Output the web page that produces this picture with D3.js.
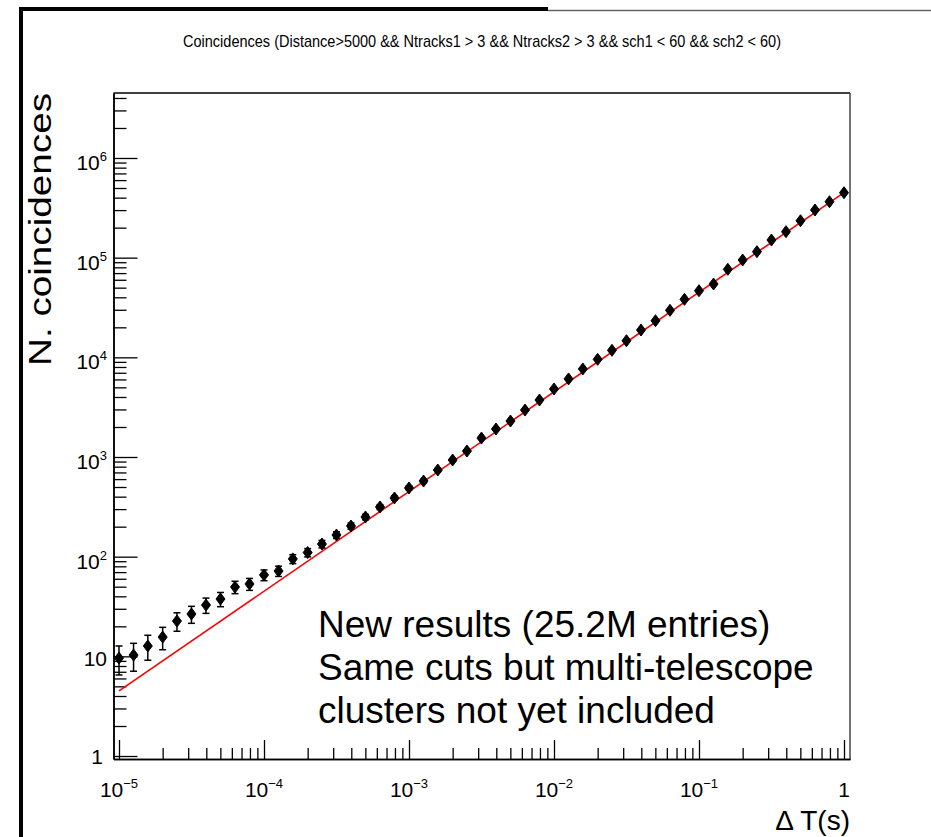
<!DOCTYPE html>
<html>
<head>
<meta charset="utf-8">
<script src="https://cdn.jsdelivr.net/npm/d3@7"></script>
<style>
  body { margin: 0; background: #fff; }
  text { font-family: "Liberation Sans", Arial, sans-serif; }
</style>
</head>
<body>
<div class="canvas"></div>
<script>
// bin centres (Delta T, seconds), 10 per decade
const deltaT = [
  1e-5, 1.26e-5, 1.58e-5, 2e-5, 2.51e-5, 3.16e-5, 3.98e-5, 5.01e-5, 6.31e-5, 7.94e-5,
  1e-4, 1.26e-4, 1.58e-4, 2e-4, 2.51e-4, 3.16e-4, 3.98e-4, 5.01e-4, 6.31e-4, 7.94e-4,
  1e-3, 1.26e-3, 1.58e-3, 2e-3, 2.51e-3, 3.16e-3, 3.98e-3, 5.01e-3, 6.31e-3, 7.94e-3,
  1e-2, 1.26e-2, 1.58e-2, 2e-2, 2.51e-2, 3.16e-2, 3.98e-2, 5.01e-2, 6.31e-2, 7.94e-2,
  1e-1, 1.26e-1, 1.58e-1, 2e-1, 2.51e-1, 3.16e-1, 3.98e-1, 5.01e-1, 6.31e-1, 7.94e-1,
  1
];
// number of coincidences
const counts = [
  9.6, 10.3, 12.7, 15.6, 22.6, 26.6, 32.7, 37.6, 49.6, 53.2,
  65.5, 71.8, 95, 110, 134, 165, 203, 250, 315, 388,
  489, 574, 740, 933, 1148, 1549, 1909, 2296, 2959, 3730,
  4809, 6070, 7640, 9550, 11750, 14680, 18800, 23300, 29600, 38200,
  46600, 54400, 76400, 94700, 114800, 150400, 182300, 234800, 300600, 364100,
  448600
];
// power law fit N = norm * dT^slope
const fitNorm = 4.5e5;
const fitSlope = 1.0;
const fitRange = [1e-5, 1];

const xMajor = [1e-5, 1e-4, 1e-3, 1e-2, 1e-1, 1];
const xMajorExp = ["\u22125", "\u22124", "\u22123", "\u22122", "\u22121", ""];
const yMajor = [1, 10, 1e2, 1e3, 1e4, 1e5, 1e6];
const yMajorExp = ["", "", "2", "3", "4", "5", "6"];

const titleText = "Coincidences (Distance>5000 && Ntracks1 > 3 && Ntracks2 > 3 && sch1 < 60 && sch2 < 60)";
const noteLines = ["New results (25.2M entries)", "Same cuts but multi-telescope", "clusters not yet included"];

const W = 931, H = 837;
const padL = 113.5, padR = 850, padT = 93, padB = 759;

const svg = d3.select(".canvas")
  .append("svg")
  .attr("width", W)
  .attr("height", H);

// outer slide frame
svg.append("line")
  .attr("x1", 21).attr("y1", 7).attr("x2", 21).attr("y2", H)
  .attr("stroke", "#000").attr("stroke-width", 4);
svg.append("line")
  .attr("x1", 19).attr("y1", 9).attr("x2", 548).attr("y2", 9)
  .attr("stroke", "#000").attr("stroke-width", 4);
svg.append("line")
  .attr("x1", 548).attr("y1", 10.5).attr("x2", W).attr("y2", 10.5)
  .attr("stroke", "#666").attr("stroke-width", 1.5);

const x = d3.scaleLog()
  .domain([Math.pow(10, -5.038), Math.pow(10, 0.0414)])
  .range([padL, padR]);
const y = d3.scaleLog()
  .domain([Math.pow(10, -0.030), Math.pow(10, 6.652)])
  .range([padB, padT]);

// minor tick values
const xMinor = [];
for (let k = -5; k < 0; k++) for (let m = 2; m < 10; m++) xMinor.push(m * Math.pow(10, k));
const yMinor = [];
for (let k = 0; k < 7; k++) for (let m = 2; m < 10; m++) {
  const v = m * Math.pow(10, k);
  if (v < y.domain()[1]) yMinor.push(v);
}

// plot frame
svg.append("line")
  .attr("x1", padL).attr("y1", padT).attr("x2", padR).attr("y2", padT)
  .attr("stroke", "#000").attr("stroke-width", 1.5);
svg.append("line")
  .attr("x1", padR).attr("y1", padT).attr("x2", padR).attr("y2", padB)
  .attr("stroke", "#444").attr("stroke-width", 1.5);

// axes (ticks pointing inside)
const gx = svg.append("g").attr("transform", `translate(0,${padB})`);
gx.call(d3.axisBottom(x).tickValues(xMinor).tickSizeInner(-11).tickSizeOuter(0).tickFormat(""));
gx.append("g").call(d3.axisBottom(x).tickValues(xMajor).tickSizeInner(-19).tickSizeOuter(0).tickFormat(""));
const gy = svg.append("g").attr("transform", `translate(${padL},0)`);
gy.call(d3.axisLeft(y).tickValues(yMinor).tickSizeInner(-13).tickSizeOuter(0).tickFormat(""));
gy.append("g").call(d3.axisLeft(y).tickValues(yMajor).tickSizeInner(-24).tickSizeOuter(0).tickFormat(""));
svg.selectAll(".domain").attr("stroke", "#000").attr("stroke-width", 1.5);
svg.selectAll(".tick line").attr("stroke", "#000").attr("stroke-width", 1.3);

// tick labels with superscripts
xMajor.forEach((v, i) => {
  const t = svg.append("text")
    .attr("x", x(v)).attr("y", 797)
    .attr("text-anchor", "middle")
    .attr("font-size", 21);
  if (xMajorExp[i] === "") {
    t.text("1");
  } else {
    t.append("tspan").text("10");
    t.append("tspan").attr("dy", -9).attr("font-size", 13).text(xMajorExp[i]);
  }
});
yMajor.forEach((v, i) => {
  const e = yMajorExp[i];
  const t = svg.append("text")
    .attr("x", v === 1 ? 103 : 107)
    .attr("y", y(v) + (e !== "" ? 12 : (v === 10 ? 10 : 8)))
    .attr("text-anchor", "end")
    .attr("font-size", 21);
  if (v === 1) t.text("1");
  else if (v === 10) t.text("10");
  else {
    t.append("tspan").text("10");
    t.append("tspan").attr("dy", -9).attr("font-size", 13).text(e);
  }
});

// titles
svg.append("text")
  .attr("x", 482).attr("y", 47)
  .attr("text-anchor", "middle")
  .attr("font-size", 17)
  .attr("textLength", 598)
  .attr("lengthAdjust", "spacingAndGlyphs")
  .text(titleText);

svg.append("text")
  .attr("transform", "translate(51,366) rotate(-90)")
  .attr("font-size", 31)
  .attr("textLength", 273)
  .attr("lengthAdjust", "spacingAndGlyphs")
  .text("N. coincidences");

svg.append("text")
  .attr("x", 850).attr("y", 830)
  .attr("text-anchor", "end")
  .attr("font-size", 28)
  .text("\u0394 T(s)");

// fit line
const fitPts = fitRange.map(t => [t, fitNorm * Math.pow(t, fitSlope)]);
svg.append("path")
  .datum(fitPts)
  .attr("fill", "none")
  .attr("stroke", "#ff0000")
  .attr("stroke-width", 1.6)
  .attr("d", d3.line().x(d => x(d[0])).y(d => y(d[1])));

// data points with Poisson error bars
const pts = deltaT.map((t, i) => ({ t: t, n: counts[i], e: Math.sqrt(counts[i]) }));
const gp = svg.append("g");
const pt = gp.selectAll("g").data(pts).join("g")
  .attr("transform", d => `translate(${x(d.t)},0)`);
pt.append("line")
  .attr("y1", d => y(d.n - d.e)).attr("y2", d => y(d.n + d.e))
  .attr("stroke", "#000").attr("stroke-width", 1.5);
pt.append("line")
  .attr("x1", -3.5).attr("x2", 3.5)
  .attr("y1", d => y(d.n - d.e)).attr("y2", d => y(d.n - d.e))
  .attr("stroke", "#000").attr("stroke-width", 1.5);
pt.append("line")
  .attr("x1", -3.5).attr("x2", 3.5)
  .attr("y1", d => y(d.n + d.e)).attr("y2", d => y(d.n + d.e))
  .attr("stroke", "#000").attr("stroke-width", 1.5);
pt.append("path")
  .attr("d", d => `M0,${y(d.n) - 6}L4.5,${y(d.n)}L0,${y(d.n) + 6}L-4.5,${y(d.n)}Z`)
  .attr("fill", "#000").attr("stroke", "#000").attr("stroke-width", 1);

// annotation
const note = svg.append("text").attr("font-size", 37).attr("fill", "#000");
noteLines.forEach((s, i) => {
  note.append("tspan").attr("x", 318).attr("y", 637 + i * 43).text(s);
});
</script>
</body>
</html>
